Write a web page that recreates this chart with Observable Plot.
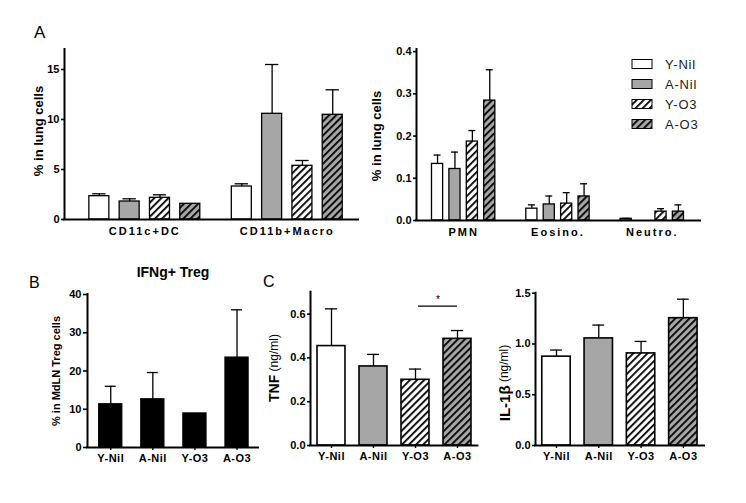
<!DOCTYPE html>
<html><head><meta charset="utf-8">
<script src="https://cdn.jsdelivr.net/npm/d3@7"></script>
<script src="https://cdn.jsdelivr.net/npm/@observablehq/plot@0.6"></script>
<style>
body{margin:0;background:#fff;}
#fig{position:relative;width:746px;height:503px;overflow:hidden;background:#fff;font-family:"Liberation Sans",Arial,sans-serif;}
.panel{position:absolute;}
.panel svg [aria-label="y-axis tick"]{stroke-width:1.6;}
.panel svg [aria-label="x-axis tick"]{stroke-width:1.4;}
.grp svg [aria-label="x-axis tick label"]{letter-spacing:2px;font-size:11px;}
.cat svg [aria-label="x-axis tick label"]{letter-spacing:0.5px;font-size:11px;}
#overlay{position:absolute;left:0;top:0;pointer-events:none;}
</style></head><body>
<div id="fig">
<svg width="0" height="0" style="position:absolute"><defs>
<pattern id="hatchW" patternUnits="userSpaceOnUse" width="5" height="5" patternTransform="rotate(45)"><rect width="5" height="5" fill="white"/><rect width="1.8" height="5" fill="black"/></pattern>
<pattern id="hatchG" patternUnits="userSpaceOnUse" width="5" height="5" patternTransform="rotate(45)"><rect width="5" height="5" fill="#a6a6a6"/><rect width="1.8" height="5" fill="black"/></pattern>
</defs></svg>
</div>
<script>
const FONT = '"Liberation Sans", Arial, sans-serif';
const series = ["Y-Nil","A-Nil","Y-O3","A-O3"];
const seriesFill = ["white","#a6a6a6","url(#hatchW)","url(#hatchG)"];

const groupsA1 = ["CD11c+DC","CD11b+Macro"];
const meanA1 = [[2.33,1.80,2.17,1.57],[3.30,10.57,5.37,10.47]];
const semA1 = [[0.24,0.27,0.30,0],[0.27,4.93,0.53,2.50]];
const ticksA1 = [0,5,10,15];

const groupsA2 = ["PMN","Eosino.","Neutro."];
const meanA2 = [[0.134,0.122,0.187,0.284],[0.028,0.038,0.040,0.057],[0.004,0,0.021,0.021]];
const semA2 = [[0.021,0.040,0.026,0.073],[0.009,0.020,0.026,0.030],[0.001,0,0.007,0.016]];
const ticksA2 = [0,0.1,0.2,0.3,0.4];

const titleB = "IFNg+ Treg";
const meanB = [11.3,12.6,8.9,23.5];
const semB = [4.7,7.0,0,12.5];
const ticksB = [0,10,20,30,40];

const meanTNF = [0.454,0.361,0.300,0.487];
const semTNF = [0.170,0.055,0.049,0.038];
const ticksTNF = [0,0.2,0.4,0.6];
const sigTNF = {from:"Y-O3", to:"A-O3", y:0.636, label:"*"};

const meanIL = [0.875,1.055,0.907,1.254];
const semIL = [0.065,0.131,0.118,0.187];
const ticksIL = [0,0.5,1.0,1.5];

const fig = document.getElementById("fig");

function panel(cfg){
  const rows = [];
  cfg.groups.forEach((g,gi)=>series.forEach((s,si)=>rows.push({
    group:g, s:si, pos: gi*cfg.stride+si, mean: cfg.mean[gi][si], sem: cfg.sem[gi][si]})));
  const errRows = rows.filter(d=>d.sem>0);
  let xticks, xfmt;
  if (cfg.groups.length > 1) {
    xticks = cfg.groups.map((g,gi)=>gi*cfg.stride+1.5);
    xfmt = v => cfg.groups[Math.round((v-1.5)/cfg.stride)];
  } else {
    xticks = series.map((s,i)=>i);
    xfmt = v => series[Math.round(v)];
  }
  const fillOf = cfg.solid ? (d=>cfg.solid) : (d=>seriesFill[d.s]);
  const marks = [
    Plot.rect(rows, {x1: d=>d.pos-cfg.half, x2: d=>d.pos+cfg.half, y1: 0, y2: "mean",
      fill: fillOf, stroke: "black", strokeWidth: cfg.sw || 1.3}),
    Plot.ruleX(errRows, {x: "pos", y1: "mean", y2: d=>d.mean+d.sem, strokeWidth: 1.3}),
    Plot.ruleY(errRows, {y: d=>d.mean+d.sem, x1: d=>d.pos-cfg.cap, x2: d=>d.pos+cfg.cap, strokeWidth: 1.3}),
    Plot.ruleY([0], {strokeWidth: 2, strokeLinecap: "square"}),
    Plot.ruleX([cfg.xDomain[0]], {y1: 0, y2: cfg.yDomain[1], strokeWidth: 2, strokeLinecap: "square"})
  ];
  if (cfg.extra) marks.push(...cfg.extra);
  const svg = Plot.plot({
    width: cfg.w, height: cfg.h,
    marginLeft: cfg.mL, marginRight: cfg.mR, marginTop: cfg.mT, marginBottom: cfg.mB,
    style: {background: "transparent", fontFamily: FONT, fontSize: "11px", fontWeight: "bold", color: "black"},
    color: {type: "identity"},
    x: {type: "linear", domain: cfg.xDomain, ticks: xticks, tickFormat: xfmt, tickSize: cfg.xTick || 0, tickPadding: cfg.xPad, label: null},
    y: {domain: cfg.yDomain, ticks: cfg.yTicks, tickSize: cfg.tickSize || 3, tickPadding: 2, tickFormat: cfg.yFmt, label: null},
    marks
  });
  const div = document.createElement("div");
  div.className = "panel " + (cfg.cls || "");
  div.style.left = cfg.left + "px"; div.style.top = cfg.top + "px";
  div.style.width = cfg.w + "px"; div.style.height = cfg.h + "px";
  div.appendChild(svg);
  fig.appendChild(div);
}

const f1 = d3.format(".1f");

panel({groups: groupsA1, mean: meanA1, sem: semA1, stride: 4.7, half: 0.33, cap: 0.22,
  xDomain: [-1.15, 8.55], yDomain: [0, 17], yTicks: ticksA1, yFmt: d3.format("d"),
  left: 0, top: 40, w: 370, h: 210, mL: 64, mR: 12, mT: 9, mB: 31, xPad: 8, cls: "grp"});

panel({groups: groupsA2, mean: meanA2, sem: semA2, stride: 5.42, half: 0.32, cap: 0.2,
  xDomain: [-1.21, 15.11], yDomain: [0, 0.405], yTicks: ticksA2, yFmt: f1,
  left: 360, top: 40, w: 386, h: 210, mL: 56, mR: 46, mT: 9, mB: 30, xPad: 8, cls: "grp"});

panel({groups: [""], mean: [meanB], sem: [semB], stride: 0, half: 0.274, cap: 0.13, solid: "black",
  xDomain: [-0.552, 3.51], yDomain: [0, 40], yTicks: ticksB, yFmt: d3.format("d"), tickSize: 4,
  left: 0, top: 250, w: 270, h: 253, mL: 87, mR: 12, mT: 44, mB: 56, xTick: 3, xPad: 4, cls: "cat"});

const sx1 = series.indexOf(sigTNF.from) + 0.07, sx2 = series.indexOf(sigTNF.to);
panel({groups: [""], mean: [meanTNF], sem: [semTNF], stride: 0, half: 0.333, cap: 0.145, sw: 1.6,
  xDomain: [-0.5, 3.486], yDomain: [0, 0.70], yTicks: ticksTNF, yFmt: f1,
  left: 270, top: 250, w: 220, h: 253, mL: 40, mR: 12.6, mT: 41.7, mB: 58, xTick: 3, xPad: 4, cls: "cat",
  extra: [
    Plot.ruleY([sigTNF], {y: "y", x1: () => sx1, x2: () => sx2, strokeWidth: 1.3}),
    Plot.text([sigTNF], {x: () => (sx1+sx2)/2, y: "y", text: "label", dy: -6, fontSize: 10, fontWeight: "normal"})
  ]});

panel({groups: [""], mean: [meanIL], sem: [semIL], stride: 0, half: 0.336, cap: 0.14, sw: 1.6,
  xDomain: [-0.496, 3.5], yDomain: [0, 1.5], yTicks: ticksIL, yFmt: f1,
  left: 495, top: 250, w: 251, h: 253, mL: 40, mR: 42, mT: 42.7, mB: 58, xTick: 3, xPad: 4, cls: "cat"});

// overlay text & legend
const NS = "http://www.w3.org/2000/svg";
const ov = document.createElementNS(NS, "svg");
ov.setAttribute("id","overlay"); ov.setAttribute("width",746); ov.setAttribute("height",503);
ov.setAttribute("font-family", FONT);
function txt(x,y,str,opts={}){
  const t = document.createElementNS(NS,"text");
  t.setAttribute("x",x); t.setAttribute("y",y);
  t.setAttribute("font-size", opts.size||12);
  if (opts.weight) t.setAttribute("font-weight", opts.weight);
  if (opts.anchor) t.setAttribute("text-anchor", opts.anchor);
  if (opts.fill) t.setAttribute("fill", opts.fill);
  if (opts.ls) t.setAttribute("letter-spacing", opts.ls);
  t.textContent = str; ov.appendChild(t); return t;
}
function vlabel(x,y,parts){
  const t = document.createElementNS(NS,"text");
  t.setAttribute("transform",`translate(${x},${y}) rotate(-90)`);
  t.setAttribute("text-anchor","middle"); t.setAttribute("dominant-baseline","central");
  parts.forEach(p=>{const s=document.createElementNS(NS,"tspan"); s.setAttribute("font-size",p.size); s.setAttribute("font-weight",p.weight); s.textContent=p.t; t.appendChild(s);});
  ov.appendChild(t);
}
txt(34,38,"A",{size:17});
txt(29,288,"B",{size:16});
txt(263,287,"C",{size:16});
txt(173,277,titleB,{size:14,weight:"bold",anchor:"middle"});
vlabel(38,131,[{t:"% in lung cells",size:13,weight:"bold"}]);
vlabel(376,136,[{t:"% in lung cells",size:13,weight:"bold"}]);
vlabel(56,371,[{t:"% in MdLN Treg cells",size:11,weight:"bold"}]);
vlabel(274,368,[{t:"TNF",size:14,weight:"bold"},{t:" (ng/ml)",size:12,weight:"normal"}]);
vlabel(504,383,[{t:"IL-1β",size:15,weight:"bold"},{t:" (ng/ml)",size:12,weight:"normal"}]);
series.forEach((s,i)=>{
  const cy = 64 + i*20;
  const r = document.createElementNS(NS,"rect");
  r.setAttribute("x",632); r.setAttribute("y",cy-4.5); r.setAttribute("width",20); r.setAttribute("height",9);
  r.setAttribute("fill",seriesFill[i]); r.setAttribute("stroke","black"); r.setAttribute("stroke-width",1);
  ov.appendChild(r);
  txt(665,cy+5,s,{size:13,fill:"#222",ls:"0.8px"});
});
fig.appendChild(ov);
</script>
</body></html>
